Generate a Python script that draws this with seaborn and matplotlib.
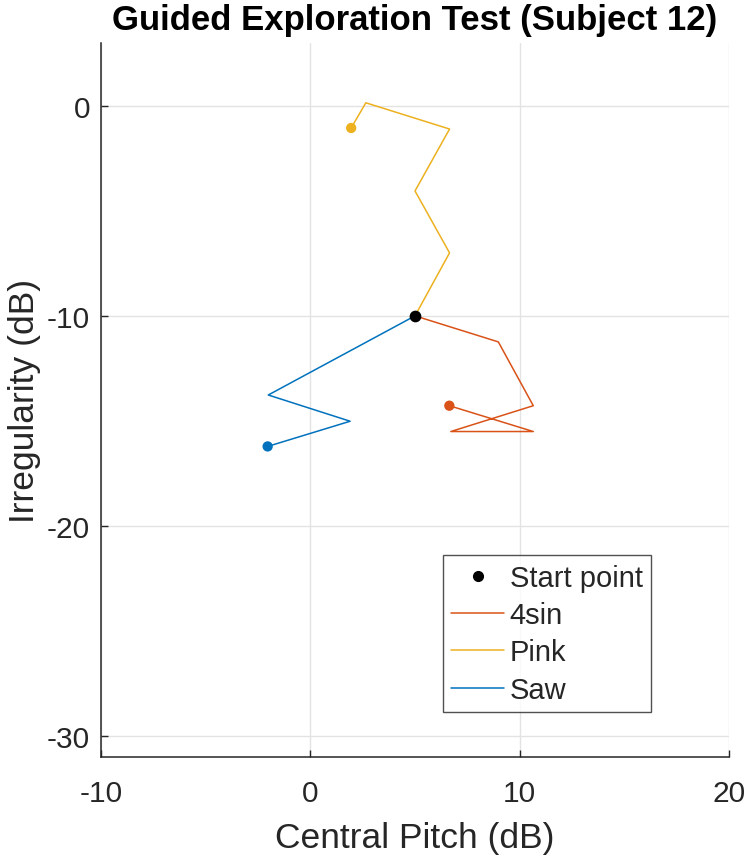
import matplotlib.pyplot as plt
import pandas as pd
import seaborn as sns
from matplotlib.lines import Line2D

# start point shared by all three paths
start_x = 5.0
start_y = -10.0

series_names = ["4sin", "Pink", "Saw"]
series_colors = ["#D95319", "#EDB120", "#0072BD"]

# path coordinates after the start point (Central Pitch, Irregularity)
sin4_x = [8.98, 10.65, 6.71, 10.65, 6.64]
sin4_y = [-11.24, -14.28, -15.51, -15.51, -14.28]

pink_x = [6.65, 5.0, 6.65, 2.65, 1.95]
pink_y = [-7.0, -4.05, -1.1, 0.15, -1.05]

saw_x = [-2.01, 1.90, -2.04]
saw_y = [-13.77, -15.02, -16.22]


def build_frame():
    rows = []
    for name, xs, ys in zip(series_names, [sin4_x, pink_x, saw_x], [sin4_y, pink_y, saw_y]):
        rows.append({"series": name, "step": 0, "x": start_x, "y": start_y})
        for i, (x, y) in enumerate(zip(xs, ys), start=1):
            rows.append({"series": name, "step": i, "x": x, "y": y})
    return pd.DataFrame(rows)


def main():
    sns.set_theme(style="whitegrid")
    plt.rcParams["font.family"] = ["Liberation Sans", "DejaVu Sans"]
    plt.rcParams["axes.unicode_minus"] = False

    df = build_frame()
    palette = dict(zip(series_names, series_colors))

    fig = plt.figure(figsize=(7.5, 8.62), dpi=100)
    ax = fig.add_axes([0.1347, 0.121, 0.8373, 0.828])

    sns.lineplot(data=df, x="x", y="y", hue="series", palette=palette,
                 sort=False, estimator=None, units="series", linewidth=1.1,
                 legend=False, ax=ax)

    ends = df.sort_values("step").groupby("series").tail(1)
    sns.scatterplot(data=ends, x="x", y="y", hue="series", palette=palette,
                    s=55, edgecolor="none", legend=False, ax=ax, zorder=4)
    ax.scatter([start_x], [start_y], s=55, color="black", zorder=5)

    ax.set_xlim(-10, 20)
    ax.set_ylim(-31, 3)
    ax.set_xticks([-10, 0, 10, 20])
    ax.set_yticks([-30, -20, -10, 0])

    ax.set_facecolor("white")
    ax.grid(True, color="#e3e3e3", linewidth=1.0)
    for side in ["top", "right"]:
        ax.spines[side].set_visible(False)
    for side in ["left", "bottom"]:
        ax.spines[side].set_color("#262626")
        ax.spines[side].set_linewidth(1.1)
    ax.tick_params(axis="both", direction="in", length=5, width=1.0,
                   colors="#262626", labelsize=21.5, labelcolor="#262626",
                   left=True, bottom=True)
    ax.tick_params(axis="x", pad=16)
    ax.tick_params(axis="y", pad=8)

    ax.set_xlabel("Central Pitch (dB)", fontsize=25.5, color="#262626", labelpad=10)
    ax.set_ylabel("Irregularity (dB)", fontsize=25.5, color="#262626", labelpad=4)
    ax.set_title("Guided Exploration Test (Subject 12)", fontsize=25,
                 fontweight="bold", color="black", pad=10)

    handles = [Line2D([], [], color="black", marker="o", linestyle="none", markersize=7)]
    handles += [Line2D([], [], color=c, linewidth=1.1) for c in series_colors]
    labels = ["Start point"] + series_names
    leg = ax.legend(handles, labels, loc="upper left", bbox_to_anchor=(0.544, 0.2826),
                    borderaxespad=0, fontsize=21, frameon=True, fancybox=False,
                    handlelength=1.8, handletextpad=0.2, labelspacing=0.32,
                    borderpad=0.3)
    leg.get_frame().set_edgecolor("#262626")
    leg.get_frame().set_linewidth(1.0)

    fig.savefig("out.png", dpi=100)


if __name__ == "__main__":
    main()
